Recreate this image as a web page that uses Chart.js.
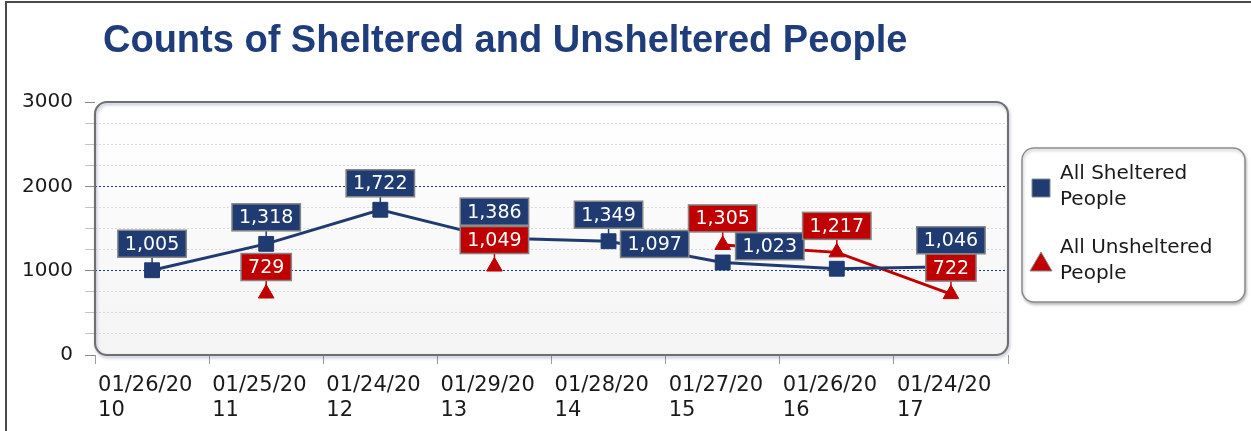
<!DOCTYPE html>
<html lang="en">
<head>
  <meta charset="UTF-8">
  <title>Counts of Sheltered and Unsheltered People</title>
  <script src="https://cdn.jsdelivr.net/npm/chart.js@4.4.1/dist/chart.umd.min.js"></script>
  <style>
    html, body { margin: 0; padding: 0; background: #fff; }
    #wrap { position: relative; width: 1251px; height: 431px; overflow: hidden; }
    #edge {
      position: absolute; left: 5px; top: 1px; width: 1300px; height: 500px;
      border-top: 2px solid #4a4a4a; border-left: 2px solid #4a4a4a;
      pointer-events: none;
    }
  </style>
</head>
<body>
  <div id="wrap">
    <canvas id="chart" width="1251" height="431"></canvas>
    <div id="edge"></div>
  </div>
  <script>
    // data
    const titleText = 'Counts of Sheltered and Unsheltered People';
    const categories = [
      ['01/26/20', '10'], ['01/25/20', '11'], ['01/24/20', '12'], ['01/29/20', '13'],
      ['01/28/20', '14'], ['01/27/20', '15'], ['01/26/20', '16'], ['01/24/20', '17']
    ];
    const seriesNames = ['All Sheltered People', 'All Unsheltered People'];
    const sheltered = [1005, 1318, 1722, 1386, 1349, 1097, 1023, 1046];
    const unsheltered = [null, 729, null, 1049, null, 1305, 1217, 722];
    const yMajor = [0, 1000, 2000, 3000];

    const BLUE = '#1f3b71';
    const RED = '#c00000';
    const FONT = '"DejaVu Sans", Verdana, sans-serif';

    // rounded plot frame + light background
    const plotFrame = {
      id: 'plotFrame',
      beforeDraw(chart) {
        const { ctx, chartArea: a } = chart;
        ctx.save();
        const g = ctx.createLinearGradient(0, a.top, 0, a.bottom);
        g.addColorStop(0, '#ffffff');
        g.addColorStop(1, '#f4f4f4');
        ctx.fillStyle = g;
        ctx.beginPath();
        ctx.roundRect(a.left, a.top, a.right - a.left, a.bottom - a.top, 12);
        ctx.fill();
        ctx.restore();
      },
      beforeDatasetsDraw(chart) {
        const { ctx, chartArea: a } = chart;
        ctx.save();
        ctx.shadowColor = 'rgba(40,60,120,0.35)';
        ctx.shadowOffsetX = 1;
        ctx.shadowOffsetY = 2;
        ctx.shadowBlur = 3;
        ctx.strokeStyle = '#6f6f6f';
        ctx.lineWidth = 2;
        ctx.beginPath();
        ctx.roundRect(a.left, a.top, a.right - a.left, a.bottom - a.top, 12);
        ctx.stroke();
        ctx.restore();
      }
    };

    // boxed value labels above each point
    const valueLabels = {
      id: 'valueLabels',
      afterDatasetsDraw(chart, args, opts) {
        const ctx = chart.ctx;
        ctx.save();
        ctx.font = opts.font;
        ctx.textAlign = 'center';
        ctx.textBaseline = 'middle';
        chart.data.datasets.forEach((ds, di) => {
          const meta = chart.getDatasetMeta(di);
          meta.data.forEach((pt, i) => {
            const v = ds.data[i];
            if (v == null) return;
            const text = v.toLocaleString('en-US');
            const nudge = (opts.nudges[di] || {})[i] || [0, -13];
            const w = ctx.measureText(text).width + 14;
            const h = 27;
            const cx = pt.x + nudge[0];
            const bottom = pt.y + nudge[1];
            if (nudge[0] === 0) {
              ctx.strokeStyle = ds.borderColor;
              ctx.lineWidth = 1.5;
              ctx.beginPath();
              ctx.moveTo(pt.x, bottom);
              ctx.lineTo(pt.x, pt.y);
              ctx.stroke();
            }
            ctx.fillStyle = ds.borderColor;
            ctx.fillRect(cx - w / 2, bottom - h, w, h);
            ctx.strokeStyle = '#858585';
            ctx.lineWidth = 1.5;
            ctx.strokeRect(cx - w / 2, bottom - h, w, h);
            ctx.fillStyle = '#ffffff';
            ctx.fillText(text, cx, bottom - h / 2 + 1);
          });
        });
        ctx.restore();
      }
    };

    // title and boxed legend on the right
    const titleLegend = {
      id: 'titleLegend',
      afterDraw(chart) {
        const { ctx, chartArea: a } = chart;
        ctx.save();
        ctx.font = 'bold 38px "Liberation Sans", Arial, sans-serif';
        ctx.fillStyle = '#1f3d7a';
        ctx.textBaseline = 'alphabetic';
        ctx.fillText(titleText, a.left + 8, 52);

        const lx = a.right + 14, ly = a.top + 46, lw = 223, lh = 154;
        ctx.shadowColor = 'rgba(0,0,0,0.25)';
        ctx.shadowOffsetX = 1;
        ctx.shadowOffsetY = 2;
        ctx.shadowBlur = 3;
        ctx.fillStyle = '#ffffff';
        ctx.strokeStyle = '#8c8c8c';
        ctx.lineWidth = 1.5;
        ctx.beginPath();
        ctx.roundRect(lx, ly, lw, lh, 12);
        ctx.fill();
        ctx.stroke();
        ctx.shadowColor = 'transparent';

        ctx.font = '20px ' + FONT;
        ctx.textBaseline = 'middle';
        chart.data.datasets.forEach((ds, di) => {
          const cy = ly + 40 + di * 74;
          const mx = lx + 19;
          ctx.fillStyle = ds.borderColor;
          ctx.strokeStyle = '#8a8a8a';
          ctx.lineWidth = 1;
          ctx.beginPath();
          if (ds.pointStyle === 'rect') {
            ctx.rect(mx - 9, cy - 9, 18, 18);
          } else {
            ctx.moveTo(mx, cy - 10);
            ctx.lineTo(mx + 11, cy + 9);
            ctx.lineTo(mx - 11, cy + 9);
            ctx.closePath();
          }
          ctx.fill();
          ctx.stroke();
          const cut = ds.label.lastIndexOf(' ');
          ctx.fillStyle = '#1a1a1a';
          ctx.fillText(ds.label.slice(0, cut), lx + 38, cy - 14);
          ctx.fillText(ds.label.slice(cut + 1), lx + 38, cy + 12);
        });
        ctx.restore();
      }
    };

    new Chart(document.getElementById('chart'), {
      type: 'line',
      data: {
        labels: categories,
        datasets: [
          {
            label: seriesNames[0],
            data: sheltered,
            borderColor: BLUE,
            backgroundColor: BLUE,
            borderWidth: 3,
            pointStyle: 'rect',
            pointRadius: 10.5,
            pointBorderWidth: 1,
            pointBackgroundColor: BLUE,
            pointBorderColor: BLUE
          },
          {
            label: seriesNames[1],
            data: unsheltered,
            borderColor: RED,
            backgroundColor: RED,
            borderWidth: 3,
            pointStyle: 'triangle',
            pointRadius: 9,
            pointBorderWidth: 1,
            pointBackgroundColor: RED,
            pointBorderColor: RED,
            spanGaps: false
          }
        ]
      },
      options: {
        responsive: false,
        animation: false,
        layout: { padding: { top: 102, right: 243, bottom: 0, left: 0 } },
        plugins: {
          legend: { display: false },
          title: { display: false },
          tooltip: { enabled: false },
          valueLabels: {
            font: '19px ' + FONT,
            // labels pushed aside where they would collide
            nudges: { 0: { 5: [-68, -5], 6: [-67, -9] } }
          }
        },
        scales: {
          x: {
            offset: true,
            grid: {
              offset: true,
              drawOnChartArea: false,
              tickLength: 9,
              tickColor: '#9a9a9a'
            },
            border: { display: false },
            ticks: {
              font: { family: FONT, size: 21 },
              color: '#1a1a1a',
              align: 'start',
              labelOffset: -54,
              padding: 9,
              maxRotation: 0,
              autoSkip: false
            },
            afterFit(scale) {
              scale.height = 76;
              scale.paddingLeft = 0;
              scale.paddingRight = 0;
            }
          },
          y: {
            min: 0,
            max: 3000,
            grid: {
              color: c => {
                const v = c.tick.value;
                if (v === 0 || v === 3000) return 'rgba(0,0,0,0)';
                return yMajor.includes(v) ? '#1f3b71' : '#dadada';
              },
              lineWidth: 1,
              tickLength: 10,
              tickColor: c => yMajor.includes(c.tick.value) ? '#8a8a8a' : '#c4c4c4'
            },
            border: { display: false, dash: [2, 2] },
            ticks: {
              stepSize: 250,
              autoSkip: false,
              font: { family: FONT, size: 20 },
              color: '#1a1a1a',
              padding: 12,
              callback: v => yMajor.includes(v) ? String(v) : ''
            },
            afterFit(scale) {
              scale.width = 95;
            }
          }
        }
      },
      plugins: [plotFrame, valueLabels, titleLegend]
    });
  </script>
</body>
</html>
